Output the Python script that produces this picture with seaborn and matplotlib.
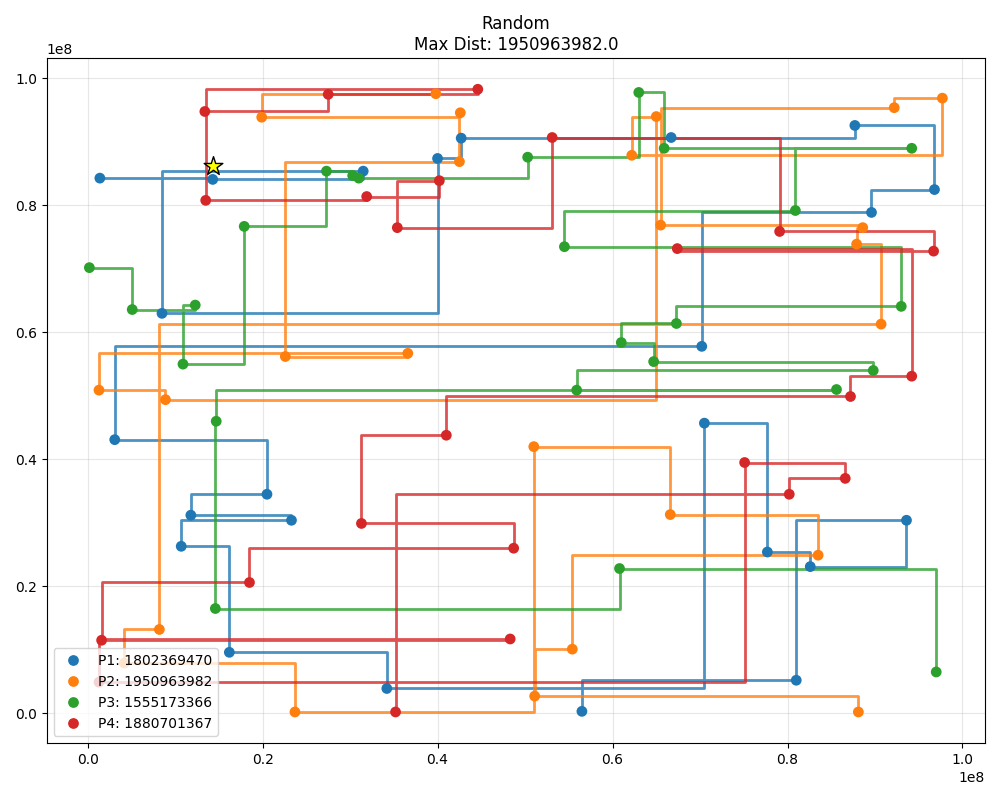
import numpy as np
import pandas as pd
import matplotlib
matplotlib.use("Agg")
import matplotlib.pyplot as plt
import seaborn as sns

SCALE = 1e8

p1_x = [0.014, 0.143, 0.315, 0.085, 0.400, 0.427, 0.667, 0.877, 0.968, 0.896, 0.702, 0.031,
        0.205, 0.118, 0.233, 0.107, 0.162, 0.342, 0.705, 0.777, 0.826, 0.936, 0.810, 0.565]
p1_y = [0.843, 0.841, 0.854, 0.630, 0.874, 0.906, 0.907, 0.926, 0.825, 0.789, 0.578, 0.431,
        0.345, 0.312, 0.304, 0.263, 0.096, 0.039, 0.457, 0.254, 0.231, 0.304, 0.052, 0.003]

p2_x = [0.398, 0.199, 0.426, 0.425, 0.226, 0.366, 0.013, 0.089, 0.650, 0.622, 0.977, 0.922, 0.655,
        0.886, 0.879, 0.907, 0.082, 0.042, 0.237, 0.510, 0.666, 0.835, 0.554, 0.511, 0.881]
p2_y = [0.976, 0.939, 0.946, 0.869, 0.562, 0.567, 0.509, 0.494, 0.940, 0.879, 0.969, 0.954, 0.769,
        0.765, 0.739, 0.613, 0.132, 0.079, 0.002, 0.420, 0.313, 0.249, 0.101, 0.027, 0.002]

p3_x = [0.002, 0.051, 0.123, 0.109, 0.179, 0.273, 0.303, 0.310, 0.503, 0.630, 0.659, 0.942, 0.809,
        0.545, 0.930, 0.673, 0.610, 0.647, 0.898, 0.559, 0.856, 0.147, 0.146, 0.608, 0.970]
p3_y = [0.702, 0.636, 0.643, 0.550, 0.767, 0.854, 0.847, 0.843, 0.876, 0.978, 0.890, 0.890, 0.792,
        0.735, 0.641, 0.614, 0.584, 0.554, 0.540, 0.509, 0.510, 0.460, 0.165, 0.228, 0.065]

p4_x = [0.134, 0.275, 0.446, 0.135, 0.319, 0.402, 0.354, 0.531, 0.791, 0.967, 0.674, 0.942, 0.872,
        0.410, 0.313, 0.487, 0.185, 0.016, 0.483, 0.013, 0.751, 0.866, 0.802, 0.352]
p4_y = [0.948, 0.975, 0.983, 0.808, 0.814, 0.839, 0.765, 0.907, 0.759, 0.728, 0.732, 0.531, 0.499,
        0.438, 0.299, 0.260, 0.206, 0.115, 0.117, 0.049, 0.395, 0.370, 0.345, 0.002]

labels = ["P1: 1802369470", "P2: 1950963982", "P3: 1555173366", "P4: 1880701367"]
start_x, start_y = 0.143, 0.862

paths = [(p1_x, p1_y), (p2_x, p2_y), (p3_x, p3_y), (p4_x, p4_y)]
colors = sns.color_palette("tab10")[:4]

frames = []
for lab, (xs, ys) in zip(labels, paths):
    frames.append(pd.DataFrame({"x": np.array(xs) * SCALE, "y": np.array(ys) * SCALE, "player": lab}))
df = pd.concat(frames, ignore_index=True)

fig, ax = plt.subplots(figsize=(10, 8), dpi=100)

# manhattan-style path between consecutive points
for (lab, grp), c in zip(df.groupby("player", sort=False), colors):
    ax.step(grp["x"], grp["y"], where="post", color=c, lw=2, alpha=0.8, zorder=2)

sns.scatterplot(data=df, x="x", y="y", hue="player", palette=colors, s=60,
                edgecolor="none", ax=ax, zorder=3)
ax.scatter([start_x * SCALE], [start_y * SCALE], marker="*", s=200, color="yellow",
           edgecolor="black", zorder=5)

ax.set_title("Random\nMax Dist: 1950963982.0")
ax.set_xlabel("")
ax.set_ylabel("")
ax.grid(True, alpha=0.3)
ax.legend(loc="lower left")

plt.tight_layout()
plt.savefig("out.png")
